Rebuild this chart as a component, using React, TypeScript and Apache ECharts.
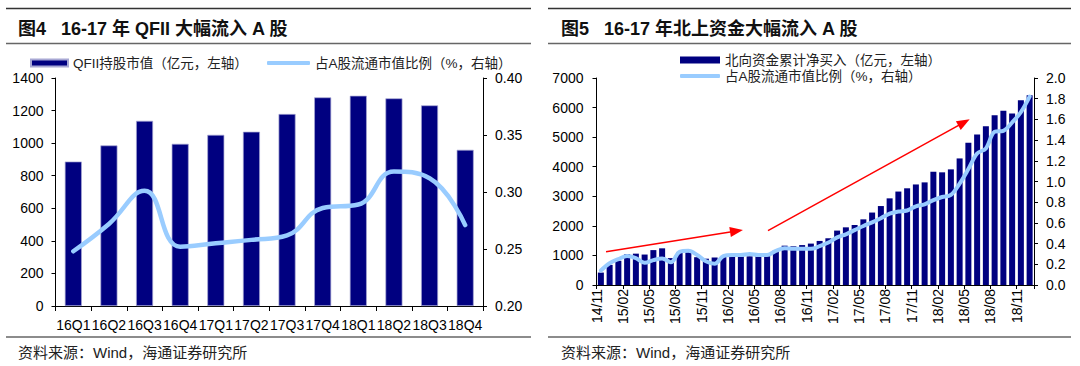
import React, { useEffect, useRef } from "react";
import * as echarts from "echarts";

// ---------- Figure 4: QFII ----------
const qfiiQuarters = ["16Q1", "16Q2", "16Q3", "16Q4", "17Q1", "17Q2", "17Q3", "17Q4", "18Q1", "18Q2", "18Q3", "18Q4"];
const qfiiHoldings = [887, 986, 1137, 996, 1051, 1070, 1179, 1281, 1291, 1275, 1232, 959];
const qfiiShare = [0.248, 0.272, 0.301, 0.252, 0.255, 0.258, 0.262, 0.286, 0.289, 0.318, 0.312, 0.271];

// ---------- Figure 5: Northbound ----------
const months = [
  "14/11", "14/12",
  "15/01", "15/02", "15/03", "15/04", "15/05", "15/06", "15/07", "15/08", "15/09", "15/10", "15/11", "15/12",
  "16/01", "16/02", "16/03", "16/04", "16/05", "16/06", "16/07", "16/08", "16/09", "16/10", "16/11", "16/12",
  "17/01", "17/02", "17/03", "17/04", "17/05", "17/06", "17/07", "17/08", "17/09", "17/10", "17/11", "17/12",
  "18/01", "18/02", "18/03", "18/04", "18/05", "18/06", "18/07", "18/08", "18/09", "18/10", "18/11", "18/12",
];
const northboundNetBuy = [
  420, 680,
  820, 1040, 1060, 1030, 1180, 1240, 910, 1120, 1110, 940, 890, 930,
  955, 960, 965, 970, 985, 1005, 1180, 1330, 1310, 1350, 1400, 1490,
  1580, 1840, 1950, 2030, 2220, 2450, 2670, 2930, 3160, 3270, 3400, 3470,
  3830, 3810, 3910, 4280, 4810, 5090, 5370, 5740, 5890, 5800, 6250, 6420,
];
const northboundShare = [
  0.14, 0.21,
  0.25, 0.28, 0.26, 0.215, 0.24, 0.255, 0.22, 0.32, 0.33, 0.29, 0.23, 0.205,
  0.28, 0.29, 0.29, 0.30, 0.29, 0.29, 0.33, 0.355, 0.35, 0.35, 0.35, 0.375,
  0.41, 0.46, 0.49, 0.53, 0.57, 0.605, 0.645, 0.69, 0.71, 0.72, 0.76, 0.78,
  0.82, 0.85, 0.87, 0.98, 1.12, 1.27, 1.32, 1.48, 1.49, 1.57, 1.67, 1.82,
];
// trend arrows (month-boundary position, value on left axis)
const trendArrows = [
  { from: [1.09, 1126], to: [16.0, 1826] },
  { from: [19.6, 1836], to: [42.0, 5500] },
];

const FONT = "'Liberation Sans', Arial, 'Noto Sans CJK SC', sans-serif";
const NAVY = "#000080";
const SKY = "#99CCFF";

const qfiiBarName = "QFII持股市值（亿元，左轴）";
const shareName = "占A股流通市值比例（%，右轴）";
const nbBarName = "北向资金累计净买入（亿元，左轴）";

function axisBase(extra: any) {
  return {
    axisLine: { show: true, onZero: false, lineStyle: { color: "#000", width: 1 } },
    axisTick: { show: true, inside: false, length: 4, lineStyle: { color: "#000" } },
    axisLabel: { fontSize: 14, color: "#000", margin: 12, fontFamily: FONT },
    splitLine: { show: false },
    ...extra,
  };
}

export default function App() {
  const ref = useRef<HTMLDivElement>(null);
  useEffect(() => {
    document.body.style.margin = "0";
    const chart = echarts.init(ref.current!, null, { renderer: "svg" });
    const legendText = { fontSize: 13.5, color: "#222", lineHeight: 14, fontFamily: FONT };
    const plain = (v: number) => String(v);
    const option: any = {
      animation: false,
      textStyle: { fontFamily: FONT },
      title: [
        {
          text: "图4   16-17 年 QFII 大幅流入 A 股",
          left: 18, top: 19, padding: 0,
          textStyle: { fontSize: 18, fontWeight: "bold", color: "#111", lineHeight: 20, fontFamily: FONT },
        },
        {
          text: "图5   16-17 年北上资金大幅流入 A 股",
          left: 561, top: 19, padding: 0,
          textStyle: { fontSize: 18, fontWeight: "bold", color: "#111", lineHeight: 20, fontFamily: FONT },
        },
      ],
      legend: [
        { left: 30, top: 56, padding: 0, data: [qfiiBarName], icon: "rect", itemWidth: 37, itemHeight: 7, selectedMode: false, textStyle: legendText },
        { left: 267, top: 56, padding: 0, data: [shareName], icon: "roundRect", itemWidth: 43, itemHeight: 4, selectedMode: false, textStyle: legendText },
        { left: 680, top: 53, padding: 0, data: [nbBarName], icon: "rect", itemWidth: 40, itemHeight: 7, selectedMode: false, textStyle: legendText },
        { left: 680, top: 69, padding: 0, data: [shareName], icon: "roundRect", itemWidth: 40, itemHeight: 4, selectedMode: false, textStyle: legendText },
      ],
      grid: [
        { left: 55.5, top: 78, width: 427.5, height: 228 },
        { left: 596.5, top: 78, width: 437.5, height: 207 },
      ],
      xAxis: [
        axisBase({
          gridIndex: 0, type: "category", position: "bottom", data: qfiiQuarters,
          axisTick: { show: true, length: 5, lineStyle: { color: "#000" } },
          axisLabel: { interval: 0, fontSize: 14, color: "#000", margin: 12, fontFamily: FONT },
        }),
        axisBase({
          gridIndex: 1, type: "category", position: "bottom", data: months,
          axisTick: { show: false }, axisLabel: { show: false },
        }),
        axisBase({
          gridIndex: 1, type: "value", position: "bottom", offset: 0, min: 0, max: months.length, interval: 3,
          axisLine: { show: false, onZero: false },
          axisTick: { show: true, length: 4, lineStyle: { color: "#000" } },
          axisLabel: {
            rotate: 90, fontSize: 14, color: "#000", margin: 4, fontFamily: FONT,
            formatter: (v: number) => (v % 3 === 0 && v < months.length ? months[v] : ""),
          },
        }),
      ],
      yAxis: [
        axisBase({ gridIndex: 0, type: "value", position: "left", min: 0, max: 1400, interval: 200, axisLabel: { fontSize: 14, color: "#000", margin: 12, fontFamily: FONT, formatter: plain } }),
        axisBase({
          gridIndex: 0, type: "value", position: "right", min: 0.2, max: 0.4, interval: 0.05,
          axisLabel: { fontSize: 14, color: "#000", margin: 12, fontFamily: FONT, formatter: (v: number) => v.toFixed(2) },
        }),
        axisBase({ gridIndex: 1, type: "value", position: "left", min: 0, max: 7000, interval: 1000, axisLabel: { fontSize: 14, color: "#000", margin: 13, fontFamily: FONT, formatter: plain } }),
        axisBase({
          gridIndex: 1, type: "value", position: "right", min: 0, max: 2, interval: 0.2,
          axisLabel: { fontSize: 14, color: "#000", margin: 12, fontFamily: FONT, formatter: (v: number) => v.toFixed(1) },
        }),
      ],
      series: [
        {
          name: qfiiBarName, type: "bar", xAxisIndex: 0, yAxisIndex: 0, data: qfiiHoldings,
          barWidth: 17, itemStyle: { color: NAVY, borderColor: "#A8A8D4", borderWidth: 0.7 },
        },
        {
          name: shareName, type: "line", xAxisIndex: 0, yAxisIndex: 1, data: qfiiShare,
          smooth: 0.45, symbol: "none", itemStyle: { color: SKY },
          lineStyle: { color: SKY, width: 4.5, cap: "round" },
        },
        {
          name: nbBarName, type: "bar", xAxisIndex: 1, yAxisIndex: 2, data: northboundNetBuy,
          barWidth: 6, itemStyle: { color: NAVY },
        },
        {
          name: shareName, type: "line", xAxisIndex: 1, yAxisIndex: 3, data: northboundShare,
          smooth: 0.35, symbol: "none", itemStyle: { color: SKY },
          lineStyle: { color: SKY, width: 4, cap: "round" },
        },
        {
          type: "line", xAxisIndex: 2, yAxisIndex: 2, data: [], silent: true,
          markLine: {
            silent: true, animation: false,
            symbol: ["none", "triangle"], symbolSize: [10, 13],
            label: { show: false },
            itemStyle: { color: "#FF0000" },
            lineStyle: { color: "#FF0000", width: 1.5, type: "solid" },
            emphasis: { disabled: true },
            data: trendArrows.map((a) => [{ coord: a.from }, { coord: a.to }]),
          },
        },
      ],
      graphic: [
        { type: "line", shape: { x1: 6, y1: 8.5, x2: 531, y2: 8.5 }, style: { stroke: "#333", lineWidth: 1.5 } },
        { type: "line", shape: { x1: 6, y1: 43.5, x2: 531, y2: 43.5 }, style: { stroke: "#666", lineWidth: 1.5 } },
        { type: "line", shape: { x1: 6, y1: 337, x2: 531, y2: 337 }, style: { stroke: "#666", lineWidth: 1.5 } },
        { type: "line", shape: { x1: 548, y1: 8.5, x2: 1071, y2: 8.5 }, style: { stroke: "#333", lineWidth: 1.5 } },
        { type: "line", shape: { x1: 548, y1: 43.5, x2: 1071, y2: 43.5 }, style: { stroke: "#666", lineWidth: 1.5 } },
        { type: "line", shape: { x1: 548, y1: 337, x2: 1071, y2: 337 }, style: { stroke: "#666", lineWidth: 1.5 } },
        {
          type: "text", x: 18, y: 352,
          style: { text: "资料来源：Wind，海通证券研究所", fontSize: 15, fontFamily: FONT, fill: "#222", verticalAlign: "middle" },
        },
        {
          type: "text", x: 561, y: 352,
          style: { text: "资料来源：Wind，海通证券研究所", fontSize: 15, fontFamily: FONT, fill: "#222", verticalAlign: "middle" },
        },
      ],
    };
    chart.setOption(option);
    return () => chart.dispose();
  }, []);
  return <div ref={ref} style={{ width: 1080, height: 366 }} />;
}
